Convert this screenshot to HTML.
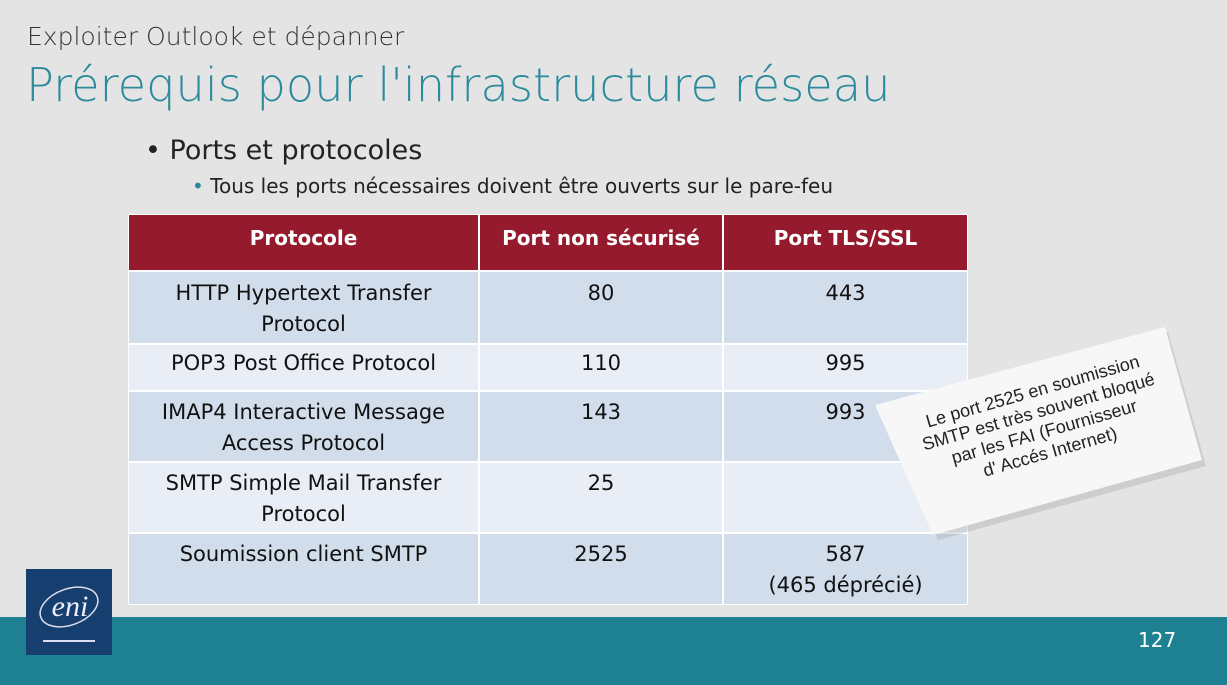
<!DOCTYPE html>
<html><head><meta charset="utf-8"><style>
body{margin:0;width:1227px;height:685px;background:#e4e4e4;position:relative;overflow:hidden;font-family:"DejaVu Sans","Liberation Sans",sans-serif;}
.a{position:absolute;white-space:nowrap}
.c{position:absolute;text-align:center;font-size:21px;line-height:31px;color:#111;box-sizing:border-box;white-space:nowrap}
.h{background:#951a2e;color:#fff;font-weight:bold;font-size:20px;padding-top:8px}
.d{background:#d1ddeb}
.l{background:#e9edf5}
</style></head><body>
<div class="a" style="left:27px;top:22px;font-size:25px;color:#333;font-weight:300">Exploiter Outlook et dépanner</div>
<div class="a" style="left:26px;top:58px;font-size:46.3px;color:#2b8a9b;font-weight:300">Prérequis pour l'infrastructure réseau</div>
<div class="a" style="left:145px;top:135px;font-size:27px;color:#222">• Ports et protocoles</div>
<div class="a" style="left:192px;top:174px;font-size:20px;color:#222"><span style="color:#2b8a9b">•</span> Tous les ports nécessaires doivent être ouverts sur le pare-feu</div>

<div class="a" style="left:128px;top:214px;width:840px;height:391px;background:#fff"></div>

<div class="c h" style="left:129px;top:215px;width:349px;height:55px">Protocole</div>
<div class="c h" style="left:480px;top:215px;width:242px;height:55px">Port non sécurisé</div>
<div class="c h" style="left:724px;top:215px;width:243px;height:55px">Port TLS/SSL</div>

<div class="c d" style="left:129px;top:272px;width:349px;height:71px;padding-top:6px">HTTP Hypertext Transfer<br>Protocol</div>
<div class="c d" style="left:480px;top:272px;width:242px;height:71px;padding-top:6px">80</div>
<div class="c d" style="left:724px;top:272px;width:243px;height:71px;padding-top:6px">443</div>

<div class="c l" style="left:129px;top:345px;width:349px;height:45px;padding-top:3px">POP3 Post Office Protocol</div>
<div class="c l" style="left:480px;top:345px;width:242px;height:45px;padding-top:3px">110</div>
<div class="c l" style="left:724px;top:345px;width:243px;height:45px;padding-top:3px">995</div>

<div class="c d" style="left:129px;top:392px;width:349px;height:69px;padding-top:5px">IMAP4 Interactive Message<br>Access Protocol</div>
<div class="c d" style="left:480px;top:392px;width:242px;height:69px;padding-top:5px">143</div>
<div class="c d" style="left:724px;top:392px;width:243px;height:69px;padding-top:5px">993</div>

<div class="c l" style="left:129px;top:463px;width:349px;height:69px;padding-top:5px">SMTP Simple Mail Transfer<br>Protocol</div>
<div class="c l" style="left:480px;top:463px;width:242px;height:69px;padding-top:5px">25</div>
<div class="c l" style="left:724px;top:463px;width:243px;height:69px;padding-top:5px"></div>

<div class="c d" style="left:129px;top:534px;width:349px;height:70px;padding-top:5px">Soumission client SMTP</div>
<div class="c d" style="left:480px;top:534px;width:242px;height:70px;padding-top:5px">2525</div>
<div class="c d" style="left:724px;top:534px;width:243px;height:70px;padding-top:5px">587<br>(465 déprécié)</div>

<svg class="a" style="left:0;top:0" width="1227" height="685">
<polygon points="880,410 1168,332 1206,466 938,540" fill="#999" opacity="0.3"/>
<polygon points="875,405 1165,327 1202,460 933,535" fill="#f7f7f7"/>
<text transform="translate(1042,424) rotate(-16)" font-family="Liberation Sans,sans-serif" font-size="18" fill="#222" text-anchor="middle">
<tspan x="0" y="-28">Le port 2525 en soumission</tspan><tspan x="0" y="-7">SMTP est très souvent bloqué</tspan><tspan x="0" y="14">par les FAI (Fournisseur</tspan><tspan x="0" y="35">d' Accés Internet)</tspan></text>
</svg>
<div class="a" style="left:0;top:617px;width:1227px;height:68px;background:#1d8192"></div>
<div class="a" style="left:26px;top:569px;width:86px;height:86px;background:#163f6f"></div>
<svg class="a" style="left:26px;top:569px" width="86" height="86">
<ellipse cx="43" cy="38" rx="30" ry="18" fill="none" stroke="#dde" stroke-width="1.5" transform="rotate(-20 43 38)"/>
<text x="44" y="47" font-family="Liberation Serif,serif" font-style="italic" font-size="30" fill="#eef" text-anchor="middle">eni</text>
<line x1="17" y1="72" x2="69" y2="72" stroke="#dde" stroke-width="2"/>
</svg>
<div class="a" style="left:1138px;top:628px;font-size:20px;color:#fff">127</div>
</body></html>
